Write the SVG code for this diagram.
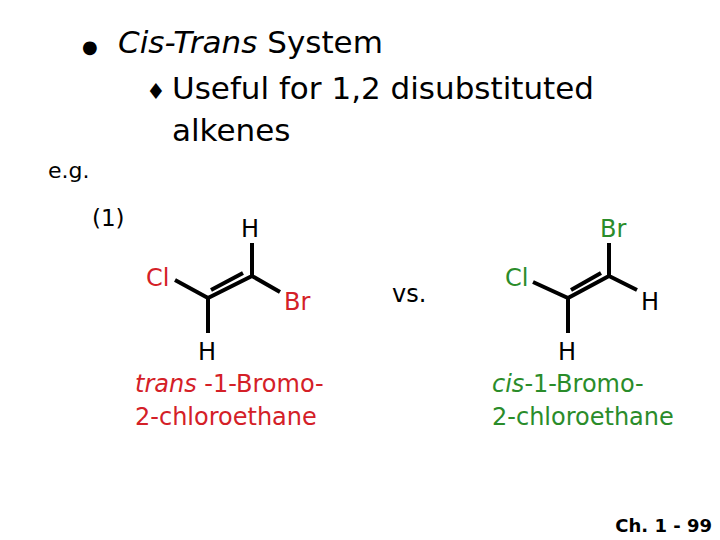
<svg xmlns="http://www.w3.org/2000/svg" width="720" height="540" viewBox="0 0 720 540">
<style>
text{font-family:"DejaVu Sans","Liberation Sans",sans-serif;fill:#000}
.b{stroke:#000;stroke-width:4;fill:none;stroke-linecap:butt}
.r{fill:#d42027}
.g{fill:#2a8c2a}
</style>
<rect width="720" height="540" fill="#fff"/>
<text x="82" y="53" font-size="18">●</text>
<text x="118" y="53" font-size="31"><tspan font-style="italic">Cis-Trans</tspan> System</text>
<text x="146" y="99" font-size="22">♦</text>
<text x="172" y="99" font-size="31">Useful for 1,2 disubstituted</text>
<text x="172" y="141" font-size="31">alkenes</text>
<text x="48" y="178" font-size="22">e.g.</text>
<text x="92" y="226" font-size="23">(1)</text>
<g id="trans">
<path class="b" d="M175,280L208,298L252,276L280,292M252,276V243M208,298V333M211,290L243,273"/>
<text x="241" y="237" font-size="24">H</text>
<text x="146" y="286" font-size="24" class="r">Cl</text>
<text x="284" y="310" font-size="24" class="r">Br</text>
<text x="198" y="360" font-size="24">H</text>
<text x="135" y="392" font-size="24" class="r"><tspan font-style="italic">trans</tspan> -1-Bromo-</text>
<text x="135" y="425" font-size="24" class="r">2-chloroethane</text>
</g>
<text x="392" y="302" font-size="24">vs.</text>
<g id="cis">
<path class="b" d="M533,282L568,298L609,276L637,290M609,276V243M568,298V333M571,290L601,273"/>
<text x="600" y="237" font-size="24" class="g">Br</text>
<text x="505" y="286" font-size="24" class="g">Cl</text>
<text x="641" y="310" font-size="24">H</text>
<text x="558" y="360" font-size="24">H</text>
<text x="492" y="392" font-size="24" class="g"><tspan font-style="italic">cis</tspan>-1-Bromo-</text>
<text x="492" y="425" font-size="24" class="g">2-chloroethane</text>
</g>
<text x="712" y="532" font-size="18" font-weight="bold" text-anchor="end">Ch. 1 - 99</text>
</svg>
